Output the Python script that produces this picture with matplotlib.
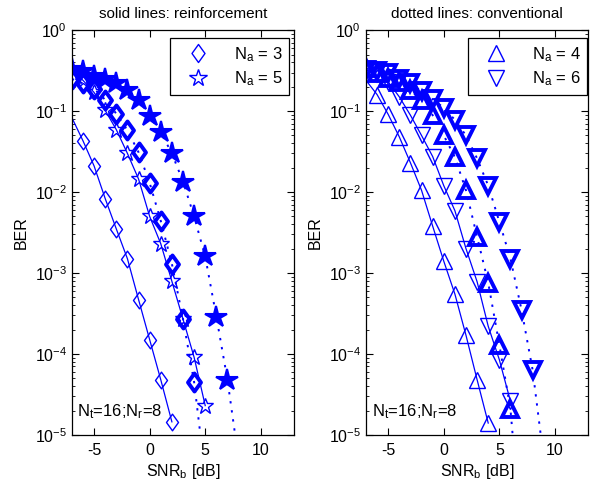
import numpy as np
import matplotlib
matplotlib.use('Agg')
import matplotlib.pyplot as plt
from matplotlib.lines import Line2D
from matplotlib.path import Path

plt.rcParams['font.family'] = ['Liberation Sans', 'DejaVu Sans']
plt.rcParams['mathtext.fontset'] = 'custom'
plt.rcParams['mathtext.rm'] = 'Liberation Sans'
plt.rcParams['mathtext.it'] = 'Liberation Sans'
plt.rcParams['axes.unicode_minus'] = False

# SNR_b [dB] and BER
snr_r3 = list(range(-7, 3))
ber_r3 = [8.3e-2, 4.3e-2, 2.1e-2, 8.3e-3, 3.5e-3, 1.5e-3, 4.7e-4, 1.5e-4, 4.8e-5, 1.45e-5]
snr_r5 = list(range(-7, 6))
ber_r5 = [3.2e-1, 2.4e-1, 1.7e-1, 1.02e-1, 5.9e-2, 3.0e-2, 1.45e-2, 5.0e-3, 2.3e-3, 7.9e-4,
          2.7e-4, 9.1e-5, 2.3e-5]
snr_c3 = list(range(-7, 6))
ber_c3 = [2.5e-1, 2.2e-1, 1.9e-1, 1.38e-1, 9.3e-2, 5.8e-2, 3.1e-2, 1.3e-2, 4.4e-3, 1.3e-3,
          2.7e-4, 4.5e-5, 3.2e-6]
snr_c5 = list(range(-7, 9))
ber_c5 = [3.3e-1, 3.1e-1, 2.75e-1, 2.5e-1, 2.2e-1, 1.8e-1, 1.38e-1, 8.7e-2, 5.5e-2, 3.0e-2,
          1.35e-2, 5.0e-3, 1.6e-3, 2.9e-4, 4.8e-5, 5.0e-6]

snr_r4 = list(range(-7, 5))
ber_r4 = [2.4e-1, 1.6e-1, 9.1e-2, 4.8e-2, 2.3e-2, 1.05e-2, 3.8e-3, 1.4e-3, 5.5e-4, 1.7e-4,
          4.8e-5, 1.4e-5]
snr_r6 = list(range(-7, 7))
ber_r6 = [4.1e-1, 3.2e-1, 2.3e-1, 1.5e-1, 8.9e-2, 5.0e-2, 2.75e-2, 1.2e-2, 5.9e-3, 2.0e-3,
          7.8e-4, 2.2e-4, 8.5e-5, 2.6e-5]
snr_c4 = list(range(-7, 8))
ber_c4 = [3.4e-1, 2.95e-1, 2.6e-1, 2.3e-1, 1.8e-1, 1.38e-1, 8.9e-2, 5.0e-2, 2.7e-2, 1.05e-2,
          2.8e-3, 7.6e-4, 1.3e-4, 2.1e-5, 5e-7]
snr_c6 = list(range(-7, 10))
ber_c6 = [3.2e-1, 3.1e-1, 2.95e-1, 2.5e-1, 2.2e-1, 1.75e-1, 1.4e-1, 1.1e-1, 7.8e-2, 5.0e-2,
          2.6e-2, 1.2e-2, 4.3e-3, 1.5e-3, 3.5e-4, 6.3e-5, 5e-6]

titles = ['solid lines: reinforcement', 'dotted lines: conventional']
labels_left = [r'N$_{\rm a}$ = 3', r'N$_{\rm a}$ = 5']
labels_right = [r'N$_{\rm a}$ = 4', r'N$_{\rm a}$ = 6']

blue = (0, 0, 1)
diamond = Path([(0, 1), (0.72, 0), (0, -1), (-0.72, 0), (0, 1)],
               [Path.MOVETO, Path.LINETO, Path.LINETO, Path.LINETO, Path.CLOSEPOLY])
dots = (0, (1.2, 3.5))

fig = plt.figure(figsize=(5.99, 4.87), dpi=100)
ax1 = fig.add_axes([0.120, 0.107, 0.371, 0.831])
ax2 = fig.add_axes([0.611, 0.107, 0.371, 0.831])

# left panel
ax1.semilogy(snr_r3, ber_r3, '-', color=blue, lw=0.9, marker=diamond, ms=12, mfc='none',
             mew=1.0, markevery=slice(1, None))
ax1.semilogy(snr_r5, ber_r5, '-', color=blue, lw=0.9, marker='*', ms=12, mfc='none',
             mew=1.0, markevery=slice(1, None))
ax1.semilogy(snr_c3, ber_c3, color=blue, ls=dots, lw=1.4, marker=diamond, ms=13, mfc='none',
             mew=2.8)
ax1.semilogy(snr_c5, ber_c5, color=blue, ls=dots, lw=1.4, marker='*', ms=16, mfc=blue,
             mew=1.5)

# right panel
ax2.semilogy(snr_r4, ber_r4, '-', color=blue, lw=0.9, marker='^', ms=11, mfc='none',
             mew=1.0, markevery=slice(1, None))
ax2.semilogy(snr_r6, ber_r6, '-', color=blue, lw=0.9, marker='v', ms=11, mfc='none',
             mew=1.0, markevery=slice(1, None))
ax2.semilogy(snr_c4, ber_c4, color=blue, ls=dots, lw=1.4, marker='^', ms=12, mfc='none',
             mew=2.8)
ax2.semilogy(snr_c6, ber_c6, color=blue, ls=dots, lw=1.4, marker='v', ms=12, mfc='none',
             mew=2.8)

for ax, title in zip([ax1, ax2], titles):
    ax.set_xlim(-7, 13)
    ax.set_ylim(1e-5, 1)
    ax.set_xticks([-5, 0, 5, 10])
    ax.set_yticks([1e-5, 1e-4, 1e-3, 1e-2, 1e-1, 1])
    ax.tick_params(which='both', direction='in', top=True, right=True, labelsize=11.5)
    ax.tick_params(axis='x', pad=6)
    ax.tick_params(which='major', length=5, width=0.8)
    ax.tick_params(which='minor', length=2.5, width=0.6)
    for s in ax.spines.values():
        s.set_linewidth(0.9)
    ax.set_title(title, fontsize=11, pad=9)
    ax.set_xlabel(r'SNR$_{\rm b}$ [dB]', fontsize=11.5, labelpad=3)
    ax.set_ylabel('BER', fontsize=11.5, labelpad=4)
    ax.text(0.025, 0.045, r'N$_{\rm t}$=16;N$_{\rm r}$=8', transform=ax.transAxes,
            fontsize=12)

h_left = [Line2D([], [], ls='none', color=blue, marker=diamond, ms=13, mfc='none', mew=1.0),
          Line2D([], [], ls='none', color=blue, marker='*', ms=13, mfc='none', mew=1.0)]
h_right = [Line2D([], [], ls='none', color=blue, marker='^', ms=12, mfc='none', mew=1.0),
           Line2D([], [], ls='none', color=blue, marker='v', ms=12, mfc='none', mew=1.0)]

for ax, h, lab, xa in [(ax1, h_left, labels_left, 0.977), (ax2, h_right, labels_right, 0.995)]:
    leg = ax.legend(h, lab, loc='upper right', bbox_to_anchor=(xa, 0.98), fontsize=12,
                    fancybox=False, framealpha=1, edgecolor='black', handlelength=2.5,
                    handletextpad=0.9, labelspacing=0.35, borderpad=0.4, borderaxespad=0)
    leg.get_frame().set_linewidth(0.9)

fig.savefig('out.png', dpi=100)
